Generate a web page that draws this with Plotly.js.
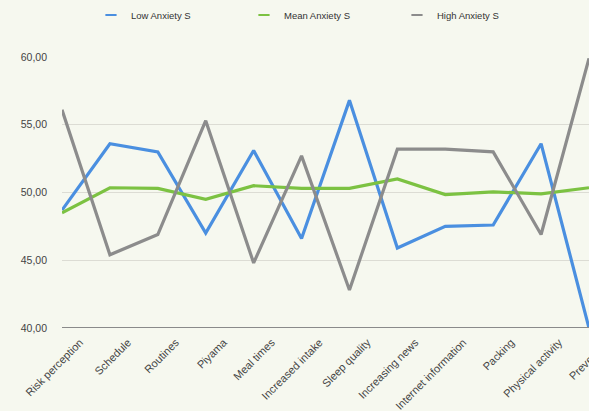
<!DOCTYPE html>
<html><head><meta charset="utf-8">
<script src="https://cdn.plot.ly/plotly-3.0.1.min.js"></script>
<style>html,body{margin:0;padding:0;background:#f6f8ef;}#chart{width:589px;height:411px;}</style>
</head><body><div id="chart"></div>
<script>
const categories = ["Risk perception","Schedule","Routines","Piyama","Meal times","Increased intake","Sleep quality","Increasing news","Internet information","Packing","Physical activity","Prevention"];
const lowAnxiety  = [48.7, 53.6, 53.0, 47.0, 53.1, 46.6, 56.8, 45.9, 47.5, 47.6, 53.6, 40.0];
const meanAnxiety = [48.5, 50.35, 50.3, 49.5, 50.5, 50.3, 50.3, 51.0, 49.85, 50.05, 49.9, 50.35];
const highAnxiety = [56.1, 45.4, 46.9, 55.3, 44.8, 52.7, 42.8, 53.2, 53.2, 53.0, 46.9, 59.9];
const seriesNames = ["Low Anxiety S","Mean Anxiety S","High Anxiety S"];
const yTicks = [40,45,50,55,60];

const colors = ["#4a8fe0","#7cc242","#8c8c8c"];
const series = [lowAnxiety, meanAnxiety, highAnxiety];
const data = [];
series.forEach((vals,i)=>{
  data.push({type:"scatter", mode:"lines", name:seriesNames[i], legendgroup:"g"+i, showlegend:false,
    x: categories, y: vals, line:{color:colors[i], width:3.2}});
});
series.forEach((vals,i)=>{
  data.push({type:"scatter", mode:"markers", name:seriesNames[i], legendgroup:"g"+i, showlegend:true,
    x:[null], y:[null], marker:{symbol:"line-ew-open", size:8, color:colors[i], line:{color:colors[i], width:2}}});
});

const layout = {
  width:589, height:411,
  paper_bgcolor:"#f6f8ef", plot_bgcolor:"#f6f8ef",
  margin:{l:62, r:0, t:51, b:83},
  separators:",.",
  font:{family:"Liberation Sans, Arial, sans-serif", size:10, color:"#444"},
  showlegend:true,
  legend:{orientation:"h", x:0.055, xanchor:"left", y:1.155, yanchor:"middle",
          font:{size:9.5, color:"#333"}, entrywidth:108, itemwidth:30, bgcolor:"rgba(0,0,0,0)"},
  xaxis:{type:"category", range:[0,11], showgrid:false, zeroline:false, showline:false,
         tickangle:-45, ticks:"", ticklabelshift:18, ticklabelstandoff:5,
         tickfont:{size:11, color:"#444"}, automargin:false},
  yaxis:{range:[40,60], tickvals:yTicks, tickformat:".2f", showgrid:true, gridcolor:"#dcdcd4", gridwidth:1,
         zeroline:false, showline:false, ticks:"", ticklabelstandoff:14, tickfont:{size:10.5, color:"#444"}, automargin:false},
  shapes:[{type:"line", xref:"paper", yref:"y", x0:0, x1:1, y0:40, y1:40, line:{color:"#8a8a8a", width:2}, layer:"above"}]
};
Plotly.newPlot("chart", data, layout, {staticPlot:true, displayModeBar:false});
</script></body></html>
